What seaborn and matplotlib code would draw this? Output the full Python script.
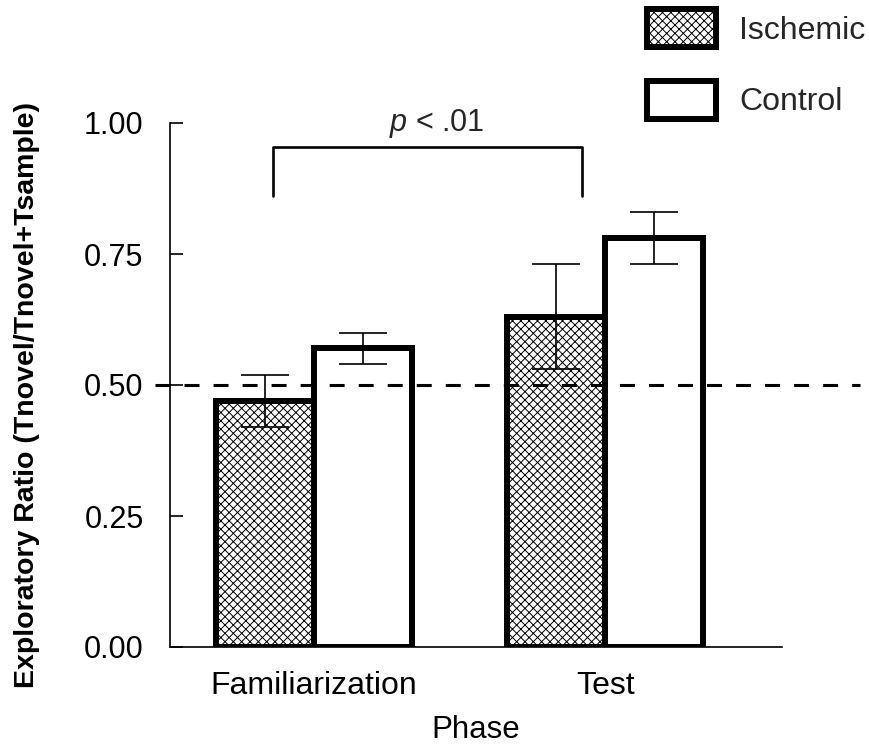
import matplotlib
matplotlib.use("Agg")
import matplotlib.pyplot as plt
import seaborn as sns
import pandas as pd
from matplotlib.patches import Patch

# ---- data ----
phases = ["Familiarization", "Test"]
groups = ["Ischemic", "Control"]
ischemic_mean = [0.47, 0.63]
ischemic_err = [0.05, 0.10]
control_mean = [0.57, 0.78]
control_err = [0.03, 0.05]
yticks = [0.00, 0.25, 0.50, 0.75, 1.00]
chance_level = 0.50
sig_label = r"$\it{p}$ < .01"

sns.set_theme(style="white")
plt.rcParams["font.family"] = ["Liberation Sans", "DejaVu Sans"]
plt.rcParams["mathtext.fontset"] = "custom"
plt.rcParams["mathtext.it"] = "Liberation Sans:italic"
plt.rcParams["mathtext.rm"] = "Liberation Sans"
plt.rcParams["hatch.linewidth"] = 0.7
plt.rcParams["hatch.color"] = "black"

df = pd.DataFrame({
    "Phase": phases * 2,
    "Group": [groups[0]] * 2 + [groups[1]] * 2,
    "Ratio": ischemic_mean + control_mean,
    "Err": ischemic_err + control_err,
})

fig = plt.figure(figsize=(8.7, 7.46), dpi=100)
ax = fig.add_axes([170 / 870, 1 - 647 / 746, (782 - 170) / 870, (647 - 123) / 746])

sns.barplot(data=df, x="Phase", y="Ratio", hue="Group", order=phases,
            hue_order=groups, palette=["white", "white"], errorbar=None,
            width=0.674, edgecolor="black", linewidth=4.3, ax=ax,
            legend=False, saturation=1)

errs = [ischemic_err, control_err]
bar_containers = list(ax.containers)
for ci, cont in enumerate(bar_containers):
    for bi, bar in enumerate(cont):
        if ci == 0:
            bar.set_hatch("xxxx")
        bar.set_zorder(2)
        cx = bar.get_x() + bar.get_width() / 2
        ax.errorbar(cx, bar.get_height(), yerr=errs[ci][bi], color="black",
                    elinewidth=1.2, capsize=17, capthick=1.2, zorder=4)

# chance line
ax.plot([-0.0245, 1.127], [chance_level, chance_level],
        transform=ax.get_yaxis_transform(), color="black", lw=2.2,
        dashes=(4.9, 4.6), clip_on=False, zorder=5)

# significance bracket
bx0, bx1, by, bleg = -0.14, 0.92, 0.955, 0.86
ax.plot([bx0, bx0, bx1, bx1], [bleg, by, by, bleg], color="black", lw=1.9,
        clip_on=False, zorder=5)
ax.text(0.423, 0.985, sig_label, ha="center", va="baseline", fontsize=22)

ax.set_ylim(0, 1)
ax.set_xlim(-0.495, 1.608)
ax.set_yticks(yticks)
ax.set_yticklabels([f"{v:.2f}" for v in yticks])
for s in ["top", "right"]:
    ax.spines[s].set_visible(False)
for s in ["left", "bottom"]:
    ax.spines[s].set_color("black")
    ax.spines[s].set_linewidth(1.2)
ax.tick_params(axis="y", direction="in", length=9.5, width=1.2, pad=19,
               labelsize=22, colors="black", left=True)
ax.tick_params(axis="x", length=0, pad=17, labelsize=23, colors="black")

ax.set_xlabel("Phase", fontsize=22.5, labelpad=10.5, color="black")
ax.set_ylabel("Exploratory Ratio (Tnovel/Tnovel+Tsample)", fontsize=20.5,
              fontweight="bold", color="black")
ax.yaxis.set_label_coords(-0.212, 0.48)

handles = [Patch(facecolor="white", edgecolor="black", hatch="xxxx", linewidth=4.3),
           Patch(facecolor="white", edgecolor="black", linewidth=4.3)]
fig.legend(handles, groups, loc="upper left",
           bbox_to_anchor=(647 / 870, 1 - 9 / 746), frameon=False,
           borderpad=0, borderaxespad=0, fontsize=23, handlelength=2.15,
           handleheight=1.445, labelspacing=1.06, handletextpad=0.74)

fig.savefig("out.png", dpi=100)
